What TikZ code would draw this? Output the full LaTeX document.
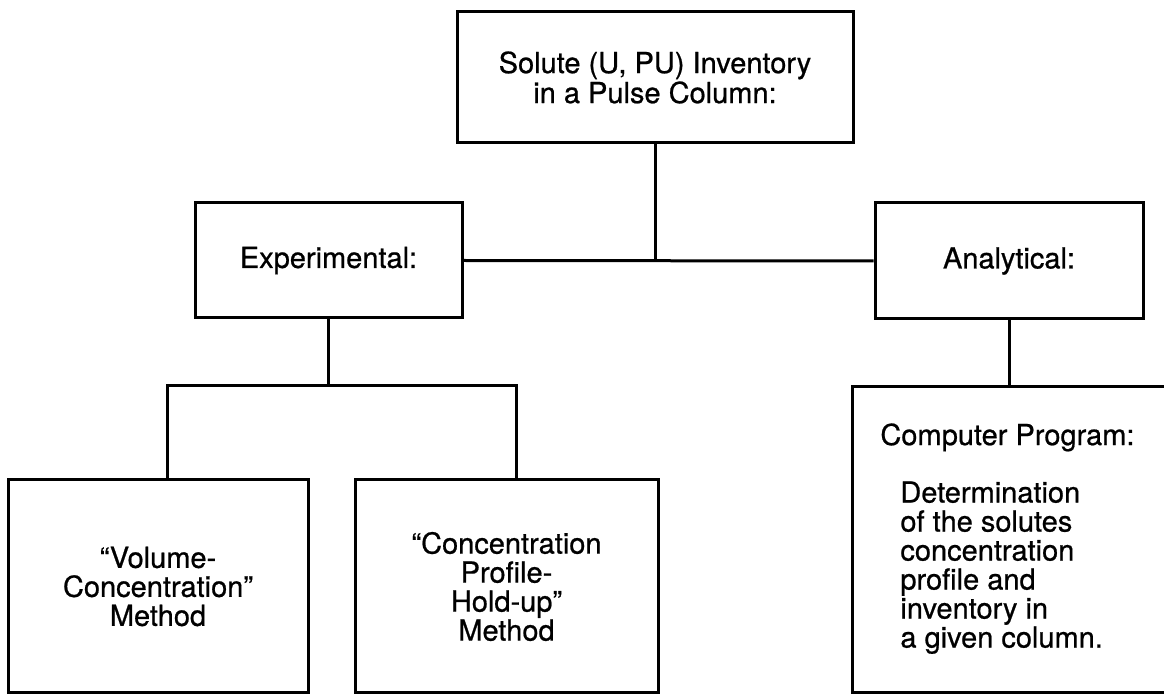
\documentclass[tikz,border=0pt]{standalone}
\usepackage{fontspec}
\setmainfont{TeX Gyre Heros}[FakeBold=0.7]
\usetikzlibrary{positioning}
\tikzset{
  chartbox/.style={draw, line width=1.5pt, align=center, inner sep=0pt,
    font=\fontsize{14.5}{14.5}\selectfont},
  chartlink/.style={line width=1.5pt},
  chartnote/.style={align=left, inner sep=0pt, anchor=north west,
    font=\fontsize{14.5}{14.5}\selectfont},
}
\begin{document}
\begin{tikzpicture}[x=0.5pt,y=-0.5pt]
  \useasboundingbox (0,0) rectangle (1164,695);
  % top of the tree
  \node[chartbox, minimum width=198pt, minimum height=65.5pt,
    font=\fontsize{14.5}{15}\selectfont] (inv) at (655,77.5)
    {Solute (U, PU) Inventory\\in a Pulse Column:};
  % the two ways
  \node[chartbox, minimum width=133.5pt, minimum height=57.5pt] (expt) at (328.5,260.5) {Experimental:};
  \node[chartbox, minimum width=134pt, minimum height=58pt] (anal) at (1009,261) {Analytical:};
  % methods
  \node[chartbox, minimum width=150pt, minimum height=106.5pt] (vol) at (158,586.5)
    {``Volume-\\Concentration''\\Method};
  \node[chartbox, minimum width=151.5pt, minimum height=106.5pt] (prof) at (506.5,586.5)
    {``Concentration\\Profile-\\Hold-up''\\Method};
  \node[chartbox, minimum width=159pt, minimum height=153pt] (comp) at (1011,540) {};
  \node[chartnote] (proghead) at (880,423) {Computer Program:};
  \node[chartnote] (progbody) at (900,481)
    {Determination\\of the solutes\\concentration\\profile and\\inventory in\\a given column.};

  % connectors
  \coordinate (split) at (expt.south |- 0,386);
  \draw[chartlink] (inv.south) -- (inv.south |- expt.east);
  \draw[chartlink] (expt.east) -- (anal.west);
  \draw[chartlink] (expt.south) -- (split);
  \draw[chartlink] ([xshift=4.5pt]vol.north) |- (split) -| ([xshift=5pt]prof.north);
  \draw[chartlink] (anal.south) -- (anal.south |- comp.north);
\end{tikzpicture}
\end{document}
